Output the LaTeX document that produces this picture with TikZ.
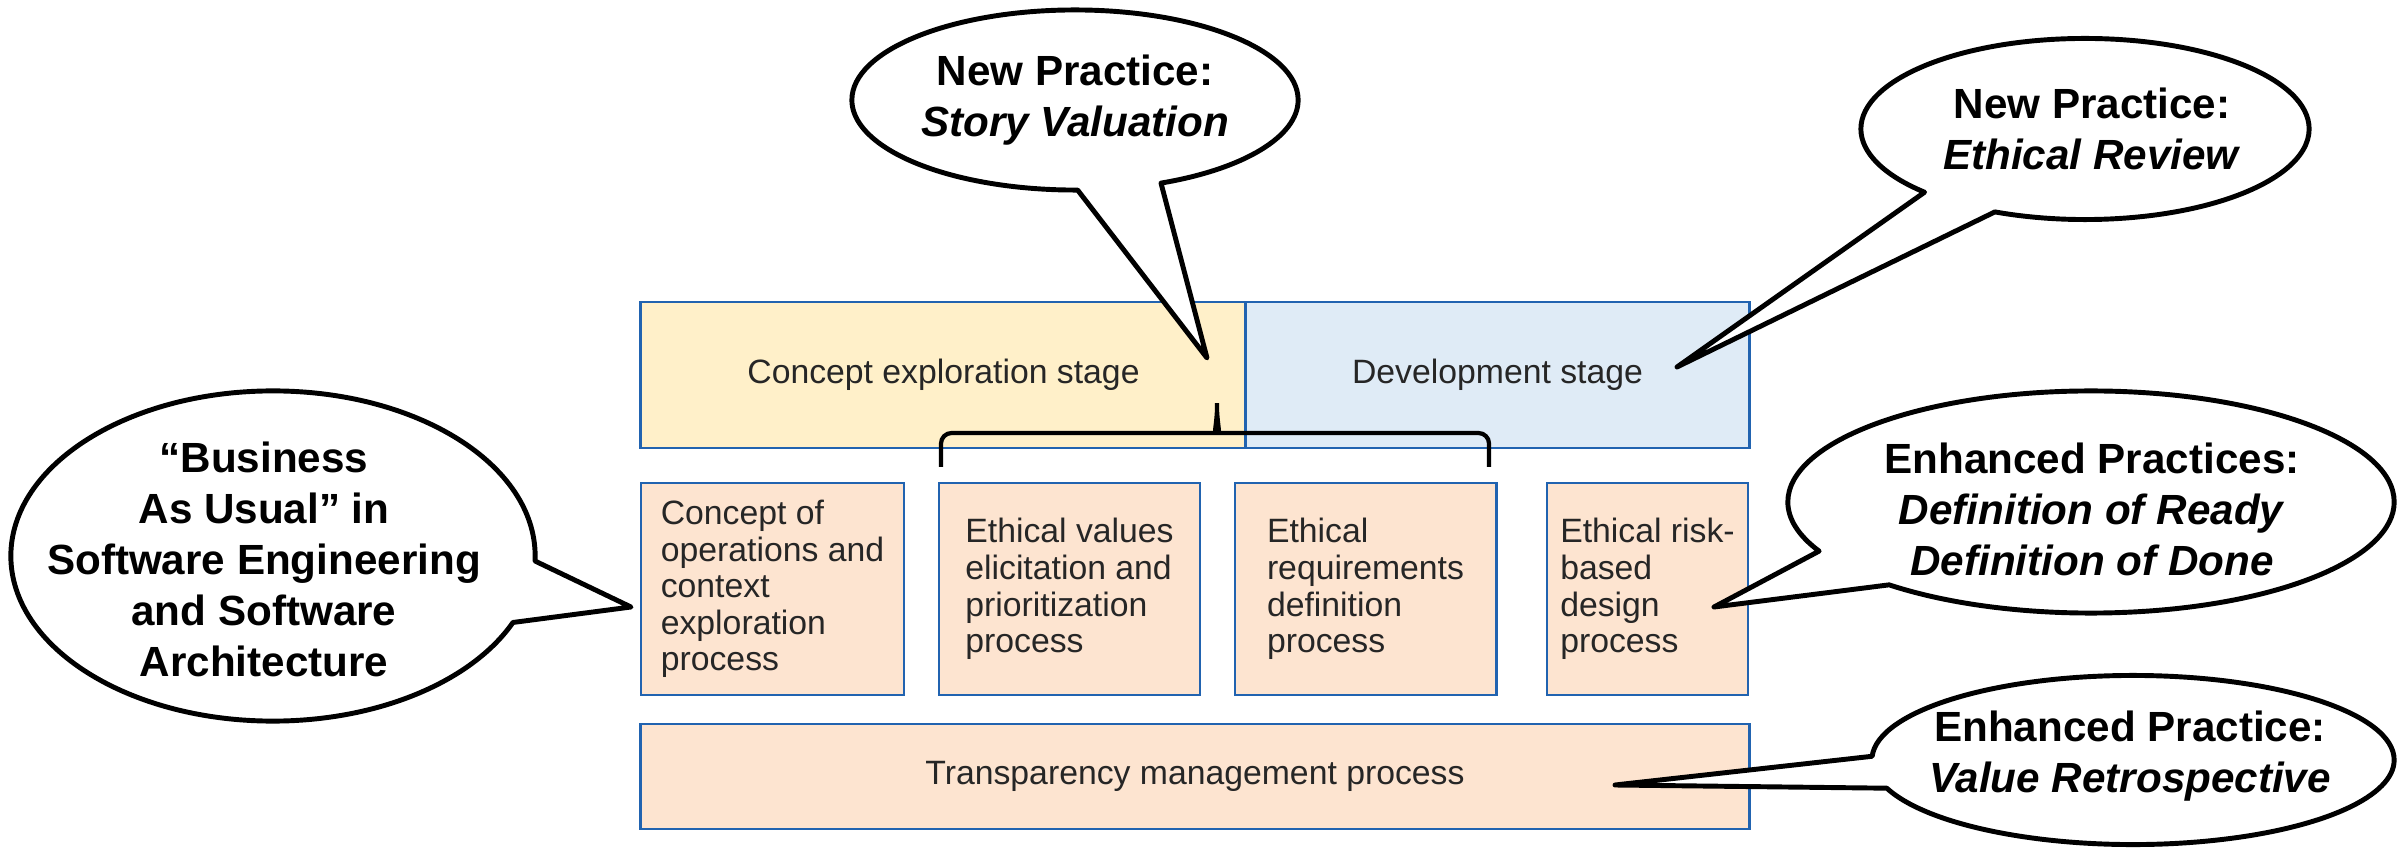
\documentclass[tikz,border=0pt]{standalone}
\usepackage{fontspec}
\setmainfont{Liberation Sans}
\usepackage{tikz}
\usetikzlibrary{shapes.callouts}
\definecolor{framebl}{RGB}{33,99,176}
\definecolor{conceptyel}{RGB}{255,240,201}
\definecolor{devblue}{RGB}{223,235,246}
\definecolor{procpeach}{RGB}{253,228,208}

\begin{document}
\begin{tikzpicture}[x=0.01cm,y=-0.01cm]
    \tikzstyle{box}=[draw=framebl, line width=0.8pt, inner sep=0pt, text=black!85, font=\fontsize{9.6}{10.4}\selectfont]
    \tikzstyle{stage}=[box, minimum height=1.46cm]
    \tikzstyle{proc}=[box, fill=procpeach, align=left, minimum height=2.12cm]
    \tikzstyle{bubble}=[ellipse callout, draw=black, fill=white, line width=1.4pt, line join=round, callout pointer arc=22]
    \tikzstyle{bubble text}=[align=center, font=\bfseries\fontsize{12}{14.5}\selectfont]

\useasboundingbox (0,0) rectangle (2406,852);

% stages
\node[stage, fill=conceptyel, minimum width=6.05cm] (concept) at (943.5,375) {Concept exploration stage};
\node[stage, fill=devblue, minimum width=5.03cm] (dev) at (1497.5,375) {Development stage};

% processes
\node[proc, minimum width=2.63cm] (p1) at (772.5,589) {Concept of\\operations and\\context\\exploration\\process};
\node[proc, minimum width=2.61cm] (p2) at (1069.5,589) {Ethical values\\elicitation and\\prioritization\\process};
\node[proc, minimum width=2.61cm] (p3) at (1365.5,589) {Ethical\\requirements\\definition\\process};
\node[proc, minimum width=2.01cm] (p4) at (1647.5,589) {Ethical risk-\\based\\design\\process};
\node[box, fill=procpeach, minimum width=11.08cm, minimum height=1.05cm] (transp) at (1195,776.5) {Transparency management process};

% brace over p2 and p3
\coordinate (brl) at (941,467);
\coordinate (brr) at (1489,467);
\coordinate (brt) at (1217,397);
\draw[line width=1.2pt, rounded corners=3pt] (brl) |- (1205,433) .. controls (1214,433) and (1217,420) .. (brt) .. controls (1217,420) and (1220,433) .. (1229,433) -| (brr);

% callouts
\coordinate (sv tip) at (1207,358);
\coordinate (er tip) at (1677,367);
\coordinate (bau tip) at (631,607);
\coordinate (dor tip) at (1714,607);
\coordinate (vr tip) at (1615,785);

\node[bubble, minimum width=4.46cm, minimum height=1.8cm, callout absolute pointer={(sv tip)}] (sv) at (1075,100) {};
\node[bubble text] at (sv) {New Practice:\\\textit{Story Valuation}};

\node[bubble, minimum width=4.48cm, minimum height=1.81cm, callout absolute pointer={(er tip)}] (er) at (2085,129) {};
\node[bubble text] at (2092,129) {New Practice:\\\textit{Ethical Review}};

\node[bubble, minimum width=5.24cm, minimum height=3.3cm, callout absolute pointer={(bau tip)}] (bau) at (273,556) {};
\node[bubble text] at (264,559) {“Business\\As Usual” in\\Software Engineering\\and Software\\Architecture};

\node[bubble, minimum width=6.06cm, minimum height=2.22cm, callout absolute pointer={(dor tip)}] (dor) at (2091,502) {};
\node[bubble text] at (2092,509) {Enhanced Practices:\\\textit{Definition of Ready}\\\textit{Definition of Done}};

\node[bubble, minimum width=5.22cm, minimum height=1.69cm, callout absolute pointer={(vr tip)}] (vr) at (2133,760) {};
\node[bubble text] at (2130,756) {Enhanced Practice:\\\textit{Value Retrospective}};
\end{tikzpicture}
\end{document}
